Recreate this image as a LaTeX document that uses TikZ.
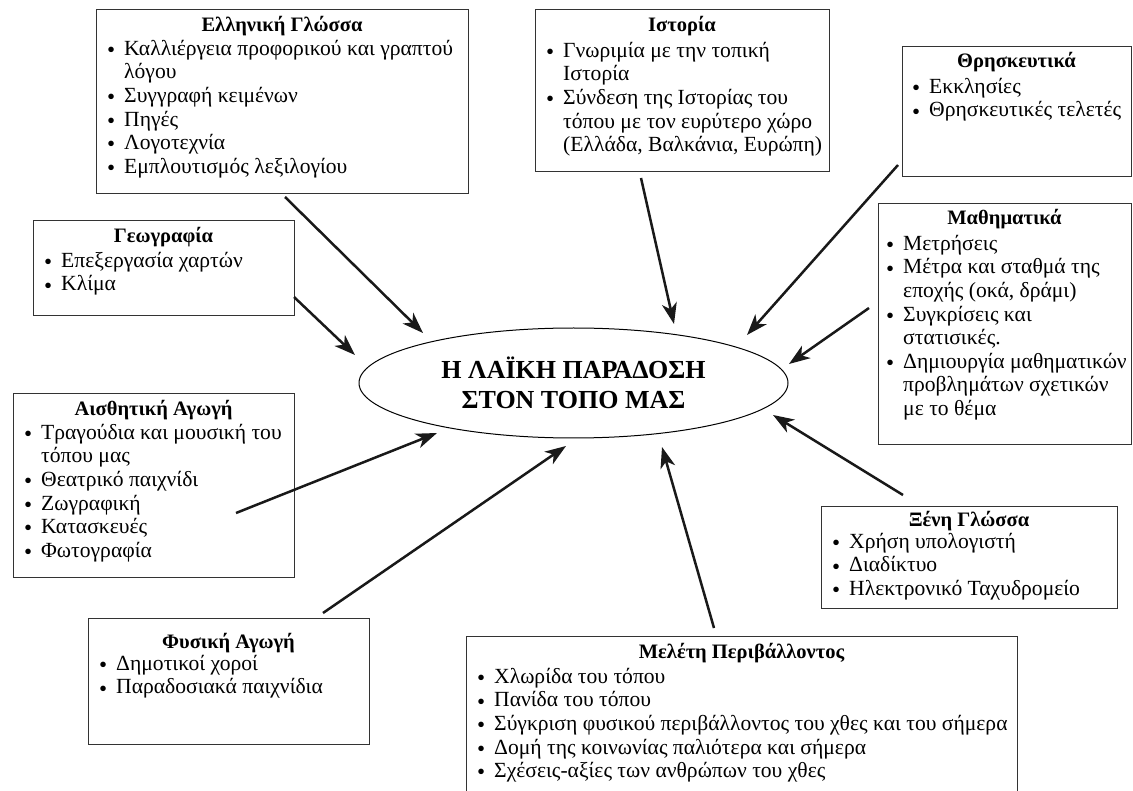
\documentclass[tikz,border=0pt]{standalone}
\usepackage{fontspec}
\setmainfont{Liberation Serif}
\usetikzlibrary{arrows.meta,shapes.geometric}
\newcommand{\bul}{\makebox[17pt][l]{\raisebox{-2.3pt}{\fontsize{23}{23}\selectfont\textbullet}}}
\newcommand{\ind}{\hspace*{17pt}}
\begin{document}
\begin{tikzpicture}[x=1pt,y=-1pt,
  frame/.style={draw=black!80, line width=1.3pt, inner sep=0pt, anchor=north west},
  ttl/.style={anchor=base, inner sep=0pt, font=\fontsize{20.5}{23.6}\selectfont\bfseries},
  itm/.style={anchor=north west, inner sep=0pt, align=left, font=\fontsize{21.6}{23.6}\selectfont},
  hub/.style={draw, ellipse, line width=1pt, inner sep=0pt, minimum width=429pt, minimum height=110pt, align=center, font=\fontsize{26}{30}\selectfont\bfseries},
  arr/.style={draw=black!90, line width=2.5pt, -{Stealth[length=21pt,width=15pt,inset=6pt]}}
]
\useasboundingbox (0,0) rectangle (1133,791);
\fill[white] (0,0) rectangle (1133,791);
\clip (0,0) rectangle (1133,791);

% Elliniki Glossa
\node[frame, minimum width=372pt, minimum height=184pt] (ell) at (96,9) {};
\node[ttl] (ellT) at (282,32) {Ελληνική Γλώσσα};
\node[itm] (ellI) at (107,38.5) {\strut\bul Καλλιέργεια προφορικού και γραπτού\\ \ind λόγου\\ \bul Συγγραφή κειμένων\\ \bul Πηγές\\ \bul Λογοτεχνία\\ \bul Εμπλουτισμός λεξιλογίου};

% Istoria
\node[frame, minimum width=294pt, minimum height=162pt] (ist) at (535,9) {};
\node[ttl] (istT) at (682,32) {Ιστορία};
\node[itm] (istI) at (546,40.5) {\strut\bul Γνωριμία με την τοπική\\ \ind Ιστορία\\ \bul Σύνδεση της Ιστορίας του\\ \ind τόπου με τον ευρύτερο χώρο\\ \ind (Ελλάδα, Βαλκάνια, Ευρώπη)};

% Thriskeftika
\node[frame, minimum width=229pt, minimum height=130pt] (thr) at (902,46) {};
\node[ttl] (thrT) at (1016.5,68) {Θρησκευτικά};
\node[itm] (thrI) at (912,76.5) {\strut\bul Εκκλησίες\\ \bul Θρησκευτικές τελετές};

% Geografia
\node[frame, minimum width=261pt, minimum height=95pt] (geo) at (33,220) {};
\node[ttl] (geoT) at (163.5,243) {Γεωγραφία};
\node[itm] (geoI) at (44,250.5) {\strut\bul Επεξεργασία χαρτών\\ \bul Κλίμα};

% Mathimatika
\node[frame, minimum width=253pt, minimum height=241pt] (mat) at (878,203) {};
\node[ttl] (matT) at (1004.5,225) {Μαθηματικά};
\node[itm] (matI) at (886,233.5) {\strut\bul Μετρήσεις\\ \bul Μέτρα και σταθμά της\\ \ind εποχής (οκά, δράμι)\\ \bul Συγκρίσεις και\\ \ind στατισικές.\\ \bul Δημιουργία μαθηματικών\\ \ind προβλημάτων σχετικών\\ \ind με το θέμα};

% Aisthitiki Agogi
\node[frame, minimum width=281pt, minimum height=184pt] (aes) at (13,393) {};
\node[ttl] (aesT) at (153.5,416) {Αισθητική Αγωγή};
\node[itm] (aesI) at (24,422.5) {\strut\bul Τραγούδια και μουσική του\\ \ind τόπου μας\\ \bul Θεατρικό παιχνίδι\\ \bul Ζωγραφική\\ \bul Κατασκευές\\ \bul Φωτογραφία};

% Fysiki Agogi
\node[frame, minimum width=281pt, minimum height=126pt] (phy) at (88,618) {};
\node[ttl] (phyT) at (228.5,648) {Φυσική Αγωγή};
\node[itm] (phyI) at (99,653.5) {\strut\bul Δημοτικοί χοροί\\ \bul Παραδοσιακά παιχνίδια};

% Meleti Perivallontos
\node[frame, minimum width=551pt, minimum height=170pt] (mel) at (466,636) {};
\node[ttl] (melT) at (741.5,658) {Μελέτη Περιβάλλοντος};
\node[itm] (melI) at (477,666.5) {\strut\bul Χλωρίδα του τόπου\\ \bul Πανίδα του τόπου\\ \bul Σύγκριση φυσικού περιβάλλοντος του χθες και του σήμερα\\ \bul Δομή της κοινωνίας παλιότερα και σήμερα\\ \bul Σχέσεις-αξίες των ανθρώπων του χθες};

% Xeni Glossa
\node[frame, minimum width=296pt, minimum height=102pt] (xen) at (821,506) {};
\node[ttl] (xenT) at (969,526) {Ξένη Γλώσσα};
\node[itm] (xenI) at (832,531.5) {\strut\bul Χρήση υπολογιστή\\ \bul Διαδίκτυο\\ \bul Ηλεκτρονικό Ταχυδρομείο};

% Centre
\node[hub] (hub) at (573.5,383) {Η ΛΑΪΚΗ ΠΑΡΑΔΟΣΗ\\ΣΤΟΝ ΤΟΠΟ ΜΑΣ};

% arrow end points
\coordinate (ellS) at (285,197);  \coordinate (ellE) at (423,333);
\coordinate (geoS) at (294,297);  \coordinate (geoE) at (355,355);
\coordinate (istS) at (641,178);  \coordinate (istE) at (674,324);
\coordinate (thrS) at (898,165);  \coordinate (thrE) at (747,335);
\coordinate (matS) at (869,308);  \coordinate (matE) at (789,364);
\coordinate (xenS) at (903,495);  \coordinate (xenE) at (773,415);
\coordinate (melS) at (714,628);  \coordinate (melE) at (662,447);
\coordinate (phyS) at (323,613);  \coordinate (phyE) at (566,446);
\coordinate (aesS) at (236,513);  \coordinate (aesE) at (437,433);

\draw[arr] (ellS) -- (ellE);
\draw[arr] (geoS) -- (geoE);
\draw[arr] (istS) -- (istE);
\draw[arr] (thrS) -- (thrE);
\draw[arr] (matS) -- (matE);
\draw[arr] (xenS) -- (xenE);
\draw[arr] (melS) -- (melE);
\draw[arr] (phyS) -- (phyE);
\draw[arr] (aesS) -- (aesE);
\end{tikzpicture}
\end{document}
